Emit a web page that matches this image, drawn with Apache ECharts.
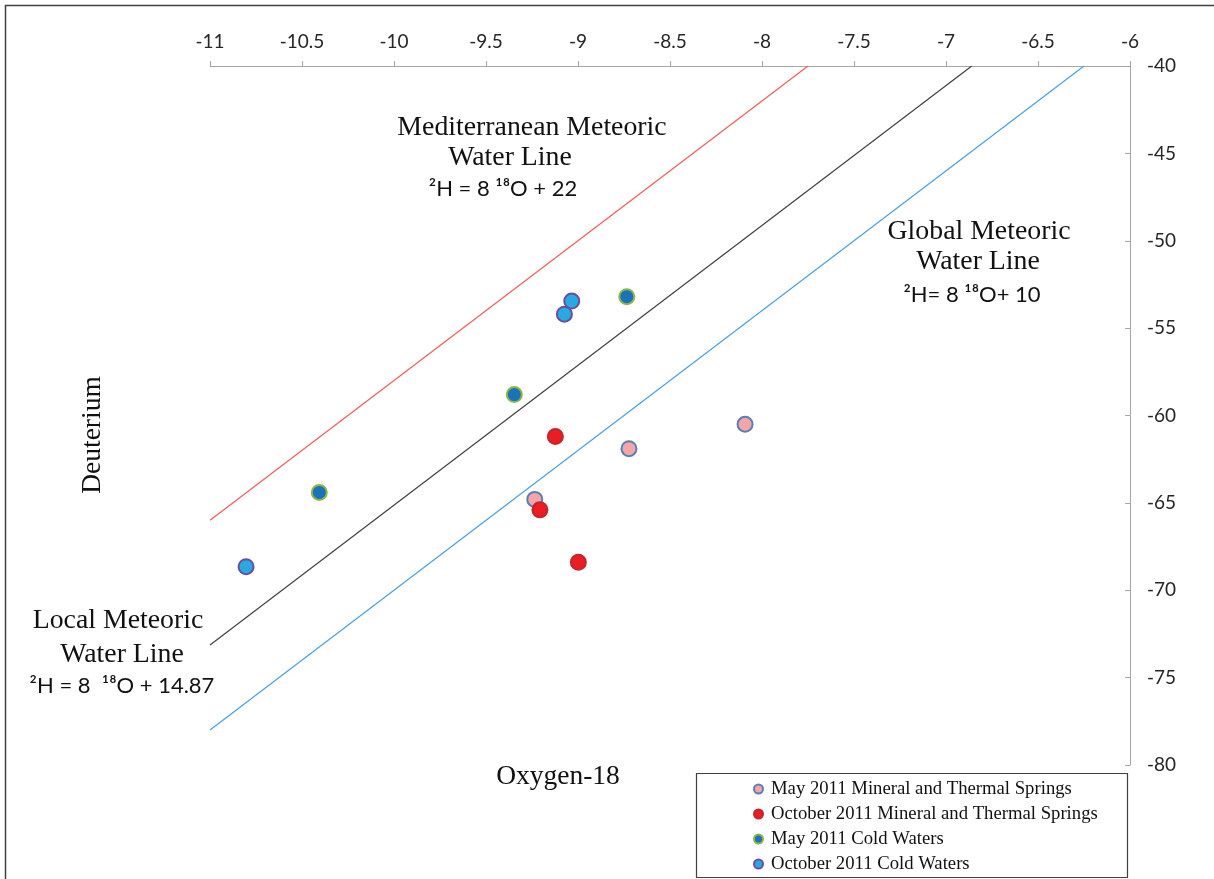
<!DOCTYPE html>
<html>
<head>
<meta charset="utf-8">
<script src="https://cdn.jsdelivr.net/npm/echarts@6/dist/echarts.min.js"></script>
<style>
html,body{margin:0;padding:0;background:#fff;}
#chart{width:1214px;height:879px;}
</style>
</head>
<body>
<div id="chart"></div>
<script>
// ---- data ----
var seriesNames = [
  'May 2011 Mineral and Thermal Springs',
  'October 2011 Mineral and Thermal Springs',
  'May 2011 Cold Waters',
  'October 2011 Cold Waters'
];
// [oxygen-18, deuterium]
var mayMineral = [[-9.235, -64.8], [-8.723, -61.9], [-8.092, -60.5]];
var octMineral = [[-9.123, -61.2], [-9.207, -65.4], [-8.998, -68.4]];
var mayCold    = [[-8.735, -53.2], [-9.346, -58.8], [-10.406, -64.4]];
var octCold    = [[-9.034, -53.45], [-9.074, -54.2], [-10.804, -68.65]];
// meteoric water lines (end points)
var mmwl = [[-11, -66], [-7.75, -40]];
var lmwl = [[-11, -73.13], [-6.86, -40]];
var gmwl = [[-11, -78], [-6.25, -40]];
// axes
var xMin = -11, xMax = -6, xStep = 0.5;
var yMin = -80, yMax = -40, yStep = 5;

var chart = echarts.init(document.getElementById('chart'), null, {renderer: 'canvas'});

var serif = '"Liberation Serif", "Times New Roman", serif';
var sans = 'Lato, "Noto Sans", sans-serif';

function lineSeries(data, color) {
  return {
    type: 'line', data: data, symbol: 'none', silent: true,
    lineStyle: {color: color, width: 1.2}, z: 1, animation: false
  };
}
function scatterSeries(name, data, fill, border) {
  return {
    name: name, type: 'scatter', data: data, symbolSize: 15, z: 5,
    itemStyle: {color: fill, borderColor: border, borderWidth: 2, opacity: 1},
    animation: false
  };
}

function txt(x, y, text, font, size, rot) {
  return {
    type: 'text', x: x, y: y, rotation: rot || 0,
    style: {
      text: text, fontFamily: font, fontSize: size, fill: '#111',
      align: 'center', verticalAlign: 'middle'
    },
    z: 10
  };
}

var option = {
  backgroundColor: '#fff',
  animation: false,
  grid: {left: 210, right: 84, top: 66, bottom: 114},
  xAxis: {
    type: 'value', position: 'top', min: xMin, max: xMax, interval: xStep,
    axisLine: {show: true, onZero: false, lineStyle: {color: '#a6a6a6', width: 1}},
    axisTick: {show: true, inside: false, length: 5, lineStyle: {color: '#a6a6a6'}},
    axisLabel: {color: '#262626', fontFamily: sans, fontSize: 19, margin: 15},
    splitLine: {show: false}
  },
  yAxis: {
    type: 'value', position: 'right', min: yMin, max: yMax, interval: yStep,
    axisLine: {show: true, onZero: false, lineStyle: {color: '#a6a6a6', width: 1}},
    axisTick: {show: true, inside: true, length: 5, lineStyle: {color: '#a6a6a6'}},
    axisLabel: {color: '#262626', fontFamily: sans, fontSize: 19, margin: 17},
    splitLine: {show: false}
  },
  legend: {
    data: seriesNames,
    orient: 'vertical', left: 753, top: 779, padding: 0,
    icon: 'circle', itemWidth: 9, itemHeight: 9, itemGap: 5,
    textStyle: {fontFamily: serif, fontSize: 18.7, color: '#111', lineHeight: 20, padding: [0, 0, 0, 3]},
    selectedMode: false
  },
  graphic: [
    {type: 'rect', shape: {x: 5.5, y: 5.5, width: 1240, height: 900},
     style: {fill: null, stroke: '#404040', lineWidth: 1.5}, z: 0, silent: true},
    {type: 'rect', shape: {x: 696.5, y: 773.5, width: 431, height: 104},
     style: {fill: null, stroke: '#404040', lineWidth: 1.2}, z: 0, silent: true},
    txt(532, 128, 'Mediterranean Meteoric', serif, 27.8),
    txt(510, 158, 'Water Line', serif, 27.8),
    txt(503, 189, '²H = 8 ¹⁸O + 22', sans, 22),
    txt(979, 232, 'Global Meteoric', serif, 27.8),
    txt(978, 262, 'Water Line', serif, 27.8),
    txt(972, 295, '²H= 8 ¹⁸O+ 10', sans, 22),
    txt(118, 621, 'Local Meteoric', serif, 27.8),
    txt(122, 655, 'Water Line', serif, 27.8),
    txt(122, 686, '²H = 8  ¹⁸O + 14.87', sans, 22),
    txt(93, 435, 'Deuterium', serif, 27.5, Math.PI / 2),
    txt(558, 777, 'Oxygen-18', serif, 27.5)
  ],
  series: [
    lineSeries(mmwl, '#f25c5c'),
    lineSeries(lmwl, '#404040'),
    lineSeries(gmwl, '#4a9fdc'),
    scatterSeries(seriesNames[0], mayMineral, '#f3a5a7', '#5b7fb5'),
    scatterSeries(seriesNames[1], octMineral, '#ec1c24', '#c0282d'),
    scatterSeries(seriesNames[2], mayCold, '#1a72b8', '#8cb64a'),
    scatterSeries(seriesNames[3], octCold, '#27aae1', '#6b4f9e')
  ]
};
chart.setOption(option);
</script>
</body>
</html>
